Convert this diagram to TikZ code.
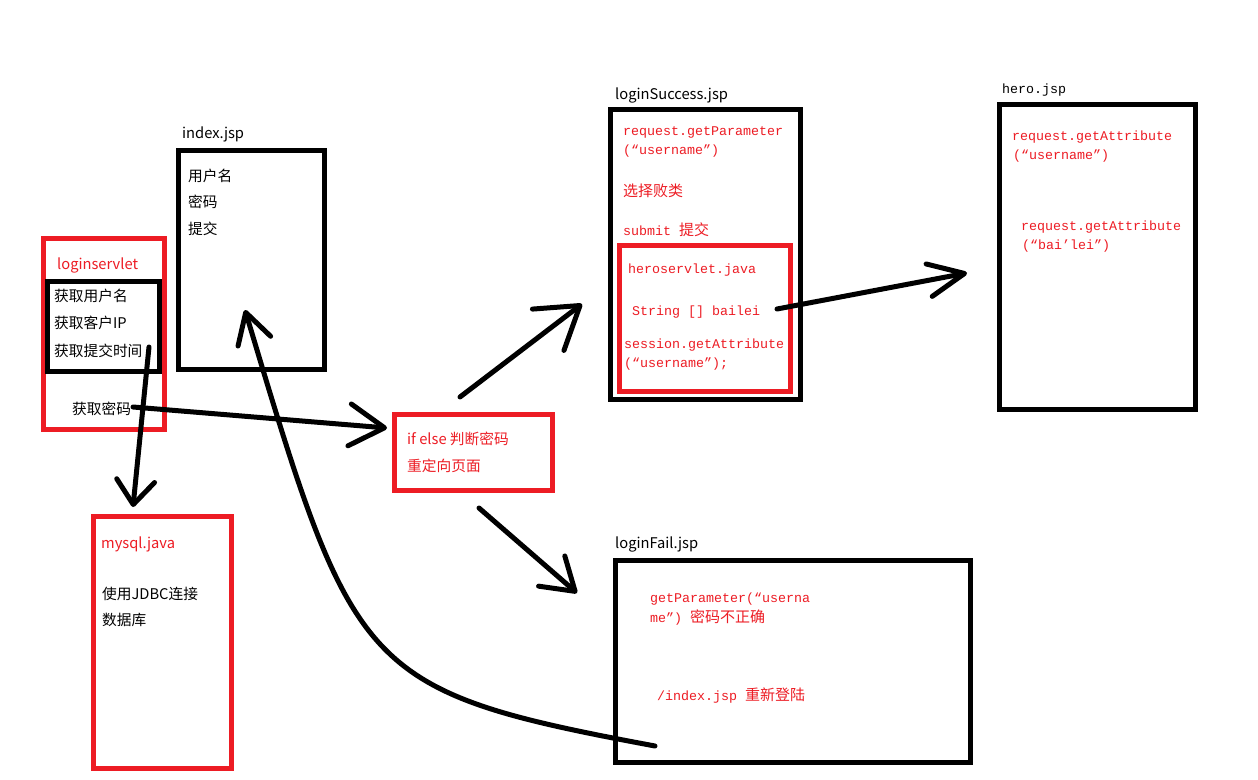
\documentclass[tikz,border=0pt]{standalone}
\usepackage{fontspec}
\setmainfont{Noto Sans CJK SC}
\newfontfamily\cjkfam{Noto Sans CJK SC}
\newfontfamily\monofam{Liberation Mono}
\usetikzlibrary{arrows.meta}
\definecolor{pred}{RGB}{237,28,36}
\newcommand\zhtxt[1]{{\cjkfam\fontsize{15}{16}\selectfont #1}}
\begin{document}
\begin{tikzpicture}[x=1pt,y=-1pt,
  box/.style={draw, line width=5pt, anchor=north west, inner sep=0pt, outer sep=0pt},
  blackbox/.style={box, draw=black},
  redbox/.style={box, draw=pred},
  sans/.style={anchor=base west, inner sep=0pt, font=\fontsize{14.7}{17}\selectfont},
  redsans/.style={sans, text=pred},
  mono/.style={anchor=base west, inner sep=0pt, font=\monofam\fontsize{13.33}{16}\selectfont},
  redmono/.style={mono, text=pred},
  arr/.style={line width=5pt, line cap=round, line join=round}
]
\useasboundingbox (0,0) rectangle (1258,779);
\fill[white] (0,0) rectangle (1258,779);

% boxes
\node[redbox, minimum width=121pt, minimum height=191pt] (servlet) at (43.5,238.5) {};
\node[blackbox, minimum width=112pt, minimum height=90pt] (servinner) at (47.5,281.5) {};
\node[blackbox, minimum width=146pt, minimum height=219pt] (index) at (178.5,150.5) {};
\node[blackbox, minimum width=190pt, minimum height=290pt] (success) at (610.5,109.5) {};
\node[redbox, minimum width=171pt, minimum height=146pt] (heroserv) at (619.5,245.5) {};
\node[blackbox, minimum width=196pt, minimum height=305pt] (hero) at (999.5,104.5) {};
\node[redbox, minimum width=158pt, minimum height=76pt] (ifelse) at (394.5,414.5) {};
\node[blackbox, minimum width=355pt, minimum height=202pt] (fail) at (615.5,560.5) {};
\node[redbox, minimum width=138pt, minimum height=252pt] (mysql) at (93.5,516.5) {};

% loginservlet
\node[redsans] (t1) at (57,269) {loginservlet};
\node[sans] (t2) at (54,301) {获取用户名};
\node[sans] (t3) at (54,328) {获取客户IP};
\node[sans] (t4) at (54,356) {获取提交时间};
\node[sans] (t5) at (72,414) {获取密码};

% index
\node[sans] (t6) at (182,138) {index.jsp};
\node[sans] (t7) at (188,181) {用户名};
\node[sans] (t8) at (188,207) {密码};
\node[sans] (t9) at (188,234) {提交};

% loginSuccess
\node[sans] (t10) at (615,99) {loginSuccess.jsp};
\node[redmono] (t11) at (623,135) {request.getParameter};
\node[redmono] (t12) at (623,154) {(“username”)};
\node[redmono] (t13) at (623,196) {\zhtxt{选择败类}};
\node[redmono] (t14) at (623,235) {submit \zhtxt{提交}};
\node[redmono] (t15) at (628,273) {heroservlet.java};
\node[redmono] (t16) at (632,315) {String [] bailei};
\node[redmono] (t17) at (624,348) {session.getAttribute};
\node[redmono] (t18) at (624,367) {(“username”);};

% hero
\node[mono] (t19) at (1002,93) {hero.jsp};
\node[redmono] (t20) at (1012,140) {request.getAttribute};
\node[redmono] (t21) at (1013,159) {(“username”)};
\node[redmono] (t22) at (1021,230) {request.getAttribute};
\node[redmono] (t23) at (1022,249) {(“bai’lei”)};

% if else
\node[redsans] (t24) at (407,444) {if else 判断密码};
\node[redsans] (t25) at (407,471) {重定向页面};

% loginFail
\node[sans] (t26) at (615,548) {loginFail.jsp};
\node[redmono] (t27) at (650,602) {getParameter(“userna};
\node[redmono] (t28) at (650,622) {me”) \zhtxt{密码不正确}};
\node[redmono] (t29) at (657,700) {/index.jsp \zhtxt{重新登陆}};

% mysql
\node[redsans] (t30) at (101,548) {mysql.java};
\node[sans] (t31) at (102,599) {使用JDBC连接};
\node[sans] (t32) at (102,625) {数据库};

% arrow coordinates
\coordinate (a1s) at (149,347); \coordinate (a1t) at (133,507);
\coordinate (a2s) at (133,407); \coordinate (a2t) at (387,428);
\coordinate (a3s) at (655,746); \coordinate (a3t) at (245,310);
\coordinate (a4s) at (460,397); \coordinate (a4t) at (582,304);
\coordinate (a5s) at (479,508); \coordinate (a5t) at (577,593);
\coordinate (a6s) at (777,309); \coordinate (a6t) at (967,273);

\draw[arr, -{Straight Barb[length=24pt, width=38pt, round]}] (a1s) -- (a1t);
\draw[arr, -{Straight Barb[length=35pt, width=42pt, round]}] (a2s) -- (a2t);
\draw[arr, -{Straight Barb[length=30pt, width=34pt, round]}] (a3s) .. controls (360,691) and (354,674) .. (a3t);
\draw[arr, -{Straight Barb[length=40pt, width=52pt, round]}] (a4s) -- (a4t);
\draw[arr, -{Straight Barb[length=31pt, width=40pt, round]}] (a5s) -- (a5t);
\draw[arr, -{Straight Barb[length=36pt, width=33pt, round]}] (a6s) -- (a6t);
\end{tikzpicture}
\end{document}
